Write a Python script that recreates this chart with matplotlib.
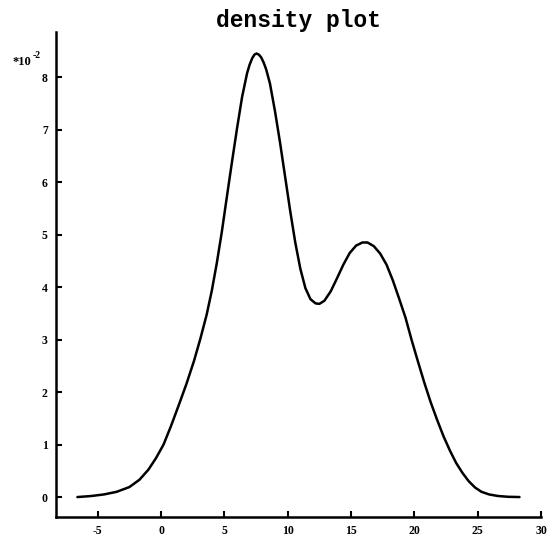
import matplotlib
matplotlib.use("Agg")
import matplotlib.pyplot as plt

# density curve (y in units of 1e-2)
x_vals = [-6.6, -5.5, -4.5, -3.5, -2.5, -1.7, -1.0, -0.4, 0.2, 0.8, 1.4, 2.0, 2.6,
          3.1, 3.6, 4.0, 4.4, 4.8, 5.2, 5.6, 6.0, 6.4, 6.8, 7.0, 7.2, 7.38, 7.55,
          7.72, 7.9, 8.1, 8.3,
          8.6, 9.0, 9.4, 9.8, 10.2, 10.6, 11.0, 11.4, 11.8, 12.2, 12.5, 12.9,
          13.4, 13.9, 14.4, 14.9, 15.4, 15.9, 16.3, 16.8, 17.3, 17.8, 18.3, 18.8,
          19.3, 19.8, 20.3, 20.8, 21.3, 21.8, 22.3, 22.8, 23.3, 23.8, 24.3, 24.8,
          25.3, 25.9, 26.6, 27.4, 28.3]
y_vals = [0.00, 0.02, 0.05, 0.10, 0.19, 0.33, 0.52, 0.74, 1.00, 1.36, 1.75, 2.15, 2.59,
          3.01, 3.47, 3.92, 4.45, 5.05, 5.72, 6.38, 7.02, 7.62, 8.08, 8.24, 8.36, 8.43, 8.45,
          8.43, 8.38, 8.28, 8.15,
          7.88, 7.35, 6.75, 6.10, 5.45, 4.85, 4.35, 3.98, 3.77, 3.69, 3.68, 3.74,
          3.92, 4.17, 4.43, 4.65, 4.79, 4.85, 4.85, 4.78, 4.64, 4.43, 4.13, 3.78,
          3.42, 2.98, 2.57, 2.17, 1.80, 1.47, 1.16, 0.89, 0.65, 0.46, 0.30, 0.18,
          0.10, 0.05, 0.02, 0.005, 0.00]

x_ticks = [-5, 0, 5, 10, 15, 20, 25, 30]
y_ticks = [0, 1, 2, 3, 4, 5, 6, 7, 8]
title_text = "density plot"

fig = plt.figure(figsize=(5.5, 5.41), dpi=100)
ax = fig.add_axes([56/550, 24/541, (541-56)/550, (517-32)/541])
ax.plot(x_vals, y_vals, color="black", linewidth=1.8, solid_capstyle="round",
        solid_joinstyle="round")
ax.set_xlim(-8.29, 30.0)
ax.set_ylim(-0.38, 8.86)

for s in ["top", "right"]:
    ax.spines[s].set_visible(False)
for s in ["left", "bottom"]:
    ax.spines[s].set_linewidth(1.8)

ax.set_xticks(x_ticks)
ax.set_yticks(y_ticks)
ax.set_xticklabels([str(v) for v in x_ticks], fontfamily="Liberation Serif",
                   fontweight="bold", fontsize=8.5)
ax.set_yticklabels([str(v) for v in y_ticks], fontfamily="Liberation Serif",
                   fontweight="bold", fontsize=8.5)
ax.tick_params(axis="both", direction="in", length=4, width=1.5, pad=6)

fig.text(298/550, 1 - 20/541, title_text, ha="center", va="center",
         fontfamily="Liberation Mono", fontweight="bold", fontsize=16.5)
fig.text(12/550, 1 - 62/541, "*10", ha="left", va="center",
         fontfamily="Liberation Serif", fontweight="bold", fontsize=9)
fig.text(33/550, 1 - 56/541, "-2", ha="left", va="center",
         fontfamily="Liberation Serif", fontweight="bold", fontsize=7)

fig.savefig("out.png", dpi=100)
